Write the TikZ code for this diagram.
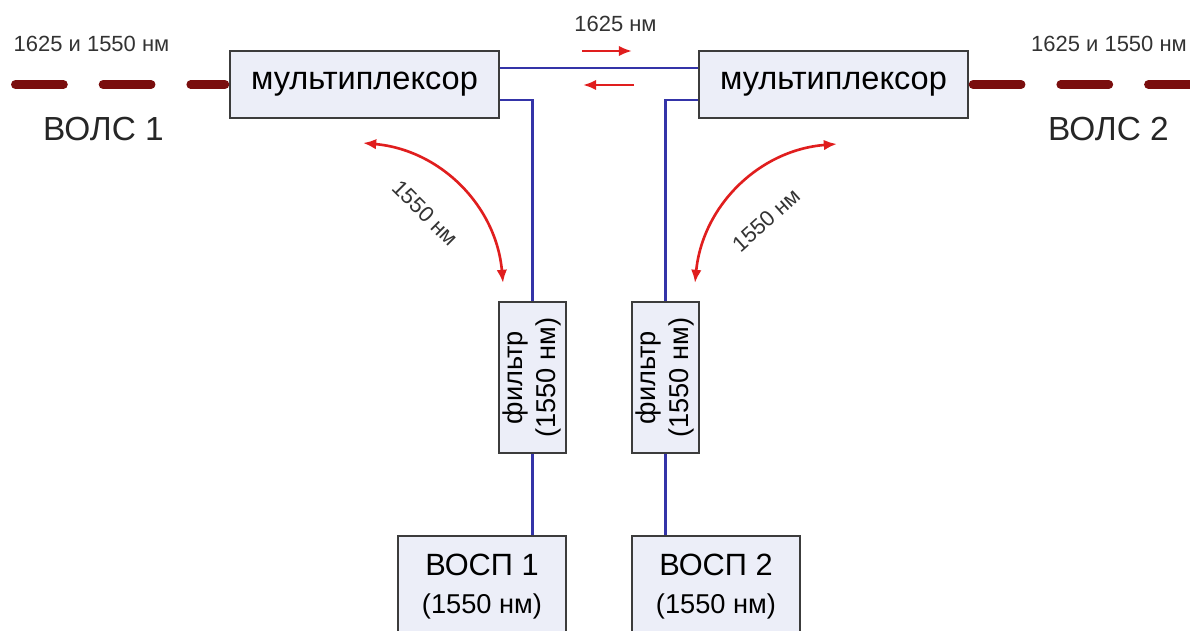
\documentclass[tikz,border=0pt]{standalone}
\usepackage{fontspec}
\setmainfont{Liberation Sans}
\usepackage{tikz}
\usetikzlibrary{arrows.meta,calc,positioning}
\definecolor{boxFill}{HTML}{ECEEF8}
\definecolor{boxEdge}{HTML}{3C3C3C}
\definecolor{fibreBlue}{HTML}{3434A8}
\definecolor{signalRed}{HTML}{E01E1E}
\definecolor{cableRed}{HTML}{7A0E0E}

\begin{document}
\begin{tikzpicture}[>={Latex[length=7.5pt,width=6pt]},
    devbox/.style={draw=boxEdge,fill=boxFill,line width=0.7pt,inner sep=0pt,align=center},
    fibre/.style={fibreBlue,line width=1.3pt},
    cable/.style={cableRed,line width=5pt,line cap=round,dash pattern=on 27.3pt off 22.6pt},
    signal/.style={signalRed,line width=1.5pt},
    small/.style={font=\fontsize{12.5}{15}\selectfont,text=black!80}]
  \useasboundingbox (0,0) rectangle (23.8,-12.62);
  % multiplexers
  \node[devbox,minimum width=5.38cm,minimum height=1.34cm,font=\fontsize{18.5}{22}\selectfont] (muxL) at (7.29,-1.69) {мультиплексор};
  \node[devbox,minimum width=5.38cm,minimum height=1.34cm,font=\fontsize{18.5}{22}\selectfont] (muxR) at (16.67,-1.69) {мультиплексор};
  % filters
  \node[devbox,minimum width=1.34cm,minimum height=3.02cm,font=\fontsize{15.5}{18.7}\selectfont] (filtL) at (10.65,-7.55)
    {\rotatebox{90}{\begin{tabular}{@{}c@{}}фильтр\\(1550 нм)\end{tabular}}};
  \node[devbox,minimum width=1.34cm,minimum height=3.02cm,font=\fontsize{15.5}{18.7}\selectfont] (filtR) at (13.31,-7.55)
    {\rotatebox{90}{\begin{tabular}{@{}c@{}}фильтр\\(1550 нм)\end{tabular}}};
  % transmission systems
  \node[devbox,minimum width=3.36cm,minimum height=2.02cm,font=\fontsize{17.5}{21}\selectfont] (vospL) at (9.64,-11.73)
    {ВОСП 1\\[1pt]{\fontsize{15.5}{18}\selectfont(1550 нм)}};
  \node[devbox,minimum width=3.36cm,minimum height=2.02cm,font=\fontsize{17.5}{21}\selectfont] (vospR) at (14.32,-11.73)
    {ВОСП 2\\[1pt]{\fontsize{15.5}{18}\selectfont(1550 нм)}};

  % line ends
  \coordinate (wL) at (0.2,-1.69);
  \coordinate (wR) at (23.8,-1.69);
  \draw[cable,dash phase=7.9pt] ($(muxL.west)+(-0.09,0)$) -- (wL);
  \draw[cable] ($(muxR.east)+(0.09,0)$) -- (wR);
  \node[small] (waveL) at (1.83,-0.88) {1625 и 1550 нм};
  \node[small] (waveR) at (22.18,-0.88) {1625 и 1550 нм};
  \node[font=\fontsize{19}{23}\selectfont,text=black!85] (volsL) at (2.07,-2.58) {ВОЛС 1};
  \node[font=\fontsize{19}{23}\selectfont,text=black!85] (volsR) at (22.17,-2.58) {ВОЛС 2};

  % fibres
  \draw[fibre] ($(muxL.east)+(0,0.33)$) -- ($(muxR.west)+(0,0.33)$);
  \draw[fibre] ($(muxL.east)+(0,-0.31)$) -| (filtL.north);
  \draw[fibre] ($(muxR.west)+(0,-0.31)$) -| (filtR.north);
  \draw[fibre] (filtL.south) -- (filtL.south |- vospL.north);
  \draw[fibre] (filtR.south) -- (filtR.south |- vospR.north);

  % directions
  \node[small] (top) at (12.31,-0.48) {1625 нм};
  \coordinate (t1a) at (11.64,-1.02);
  \coordinate (t1b) at (12.64,-1.02);
  \coordinate (t2a) at (12.68,-1.70);
  \coordinate (t2b) at (11.66,-1.70);
  \draw[signal,->] (t1a) -- (t1b);
  \draw[signal,->] (t2a) -- (t2b);
  \coordinate (c1a) at (7.26,-2.86);
  \coordinate (c1b) at (10.06,-5.66);
  \coordinate (c2a) at (13.9,-5.66);
  \coordinate (c2b) at (16.74,-2.88);
  \draw[signal,<->] (c1a) to[bend left=40] (c1b);
  \draw[signal,<->] (c2a) to[bend left=40] (c2b);
  \node[small,rotate=-45] (lamL) at (8.5,-4.26) {1550 нм};
  \node[small,rotate=42] (lamR) at (15.32,-4.4) {1550 нм};
\end{tikzpicture}
\end{document}
